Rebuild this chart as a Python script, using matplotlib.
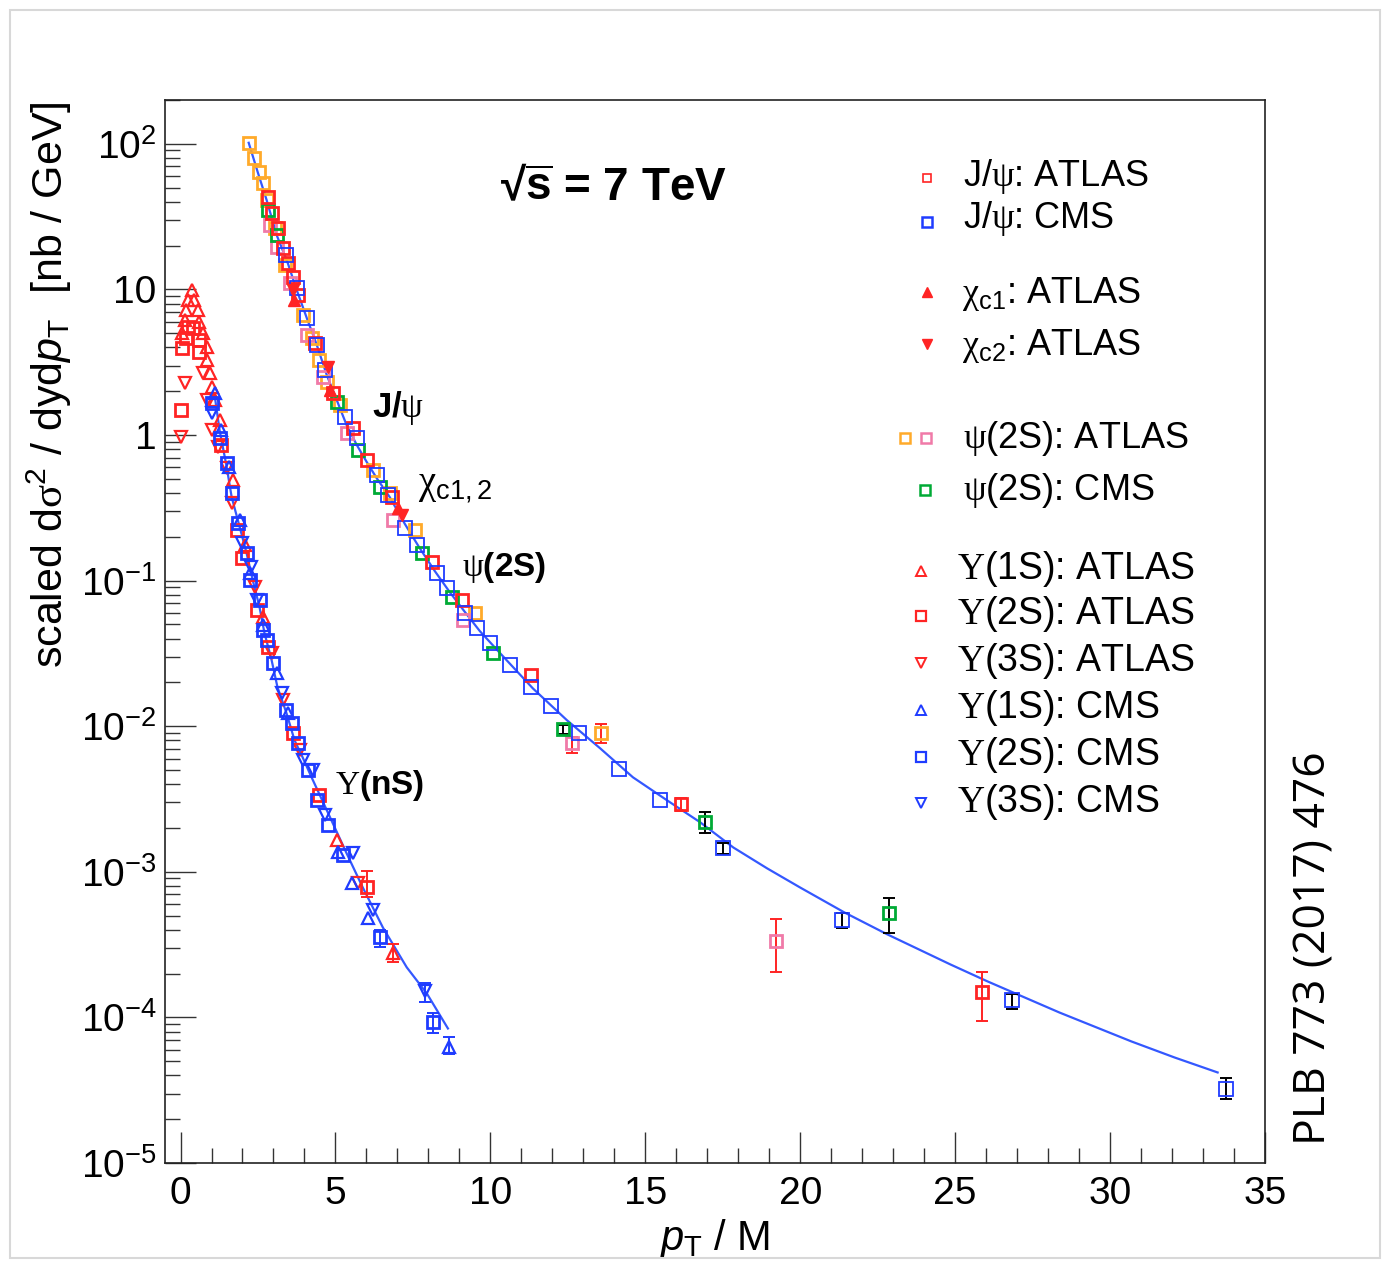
import matplotlib

matplotlib.use("Agg", force=True)
import matplotlib.pyplot as plt
import numpy as np
from matplotlib.patches import Rectangle
from matplotlib.ticker import FixedLocator, LogLocator, MultipleLocator, NullFormatter

plt.rcParams["font.family"] = ["Liberation Sans", "DejaVu Sans"]
plt.rcParams["mathtext.fontset"] = "custom"
plt.rcParams["mathtext.rm"] = "Liberation Serif"
plt.rcParams["mathtext.sf"] = "Liberation Sans"
plt.rcParams["mathtext.it"] = "Liberation Sans:italic"
plt.rcParams["mathtext.bf"] = "Liberation Sans:bold"
plt.rcParams["mathtext.fallback"] = "stix"

RED = "#ff2424"
BLUE = "#1f3cff"
GREEN = "#00aa35"
ORANGE = "#ffaa2a"
PINK = "#f07aa8"
FIT = "#3458ff"
NAN = np.nan

# ---- charmonium family (pT / M, scaled cross section) ----
jpsi_fit_x = [2.20, 2.49, 2.78, 3.10, 3.46, 3.75, 4.07, 4.39, 4.72, 5.04, 5.36, 5.69,
              6.01, 6.33, 6.75, 7.24, 7.72, 8.21, 8.69, 9.18, 9.66, 10.31, 11.37,
              12.47, 13.54, 14.60, 15.70, 16.77, 17.84, 18.93, 19.99, 21.42, 22.81,
              24.85, 26.04, 28.37, 30.69, 32.08, 33.47]
jpsi_fit_y = [101.6, 64, 41, 23.7, 15.2, 9.9, 6.4, 4.2, 2.58, 1.74, 1.17, 0.853,
              0.652, 0.506, 0.375, 0.245, 0.167, 0.116, 0.0833, 0.0608, 0.045, 0.0318,
              0.0182, 0.011, 0.00706, 0.00446, 0.0031, 0.00219, 0.00147, 1.057e-3,
              7.82e-4, 5.27e-4, 3.72e-4, 2.31e-4, 1.77e-4, 1.08e-4, 6.84e-5, 5.31e-5,
              4.19e-5]

jpsi_atlas_x = [2.81, 2.94, 3.13, 3.30, 3.46, 3.62, 3.78, 4.33, 4.91, 5.56, 6.01,
                6.82, 8.11, 9.08, 11.31, 16.16, 25.88]
jpsi_atlas_y = [43.2, 33.6, 26.5, 19.3, 15.2, 12.2, 9.2, 4.29, 1.94, 1.12, 0.673,
                0.375, 0.134, 0.0735, 0.0224, 0.00291, 1.49e-4]
jpsi_atlas_lo = [NAN] * 15 + [0.00262, 9.5e-5]
jpsi_atlas_hi = [NAN] * 15 + [0.00322, 2.04e-4]

jpsi_cms_x = [3.39, 3.75, 4.07, 4.39, 4.65, 5.30, 5.69, 6.33, 6.69, 7.24, 7.63, 8.27,
              8.59, 9.18, 9.56, 9.98, 10.63, 11.31, 11.95, 12.86, 14.15, 15.48, 17.51,
              21.36, 26.85, 33.73]
jpsi_cms_y = [17.3, 10.2, 6.37, 4.15, 2.80, 1.33, 0.954, 0.531, 0.387, 0.230, 0.175,
              0.113, 0.0888, 0.0598, 0.0472, 0.0372, 0.0262, 0.0185, 0.0137, 0.00895,
              0.00506, 0.00310, 0.00145, 4.64e-4, 1.31e-4, 3.25e-5]
jpsi_cms_lo = [NAN] * 22 + [0.00133, 4.09e-4, 1.15e-4, 2.77e-5]
jpsi_cms_hi = [NAN] * 22 + [0.00157, 5.19e-4, 1.46e-4, 3.81e-5]

chic1_x = [3.65, 4.81, 7.01]
chic1_y = [8.47, 2.04, 0.315]
chic2_x = [3.62, 4.75, 7.14]
chic2_y = [9.93, 2.93, 0.282]

psi2s_atlas_orange_x = [2.20, 2.36, 2.52, 2.65, 2.78, 3.04, 3.36, 3.94, 4.23, 4.46,
                        4.72, 5.14, 6.20, 6.75, 7.56, 9.50, 13.57]
psi2s_atlas_orange_y = [101.6, 80.1, 64.2, 53.9, 41.2, 26.5, 14.7, 6.68, 4.64, 3.28,
                        2.31, 1.61, 0.575, 0.399, 0.222, 0.0598, 0.00895]
psi2s_atlas_orange_lo = [NAN] * 16 + [0.00764]
psi2s_atlas_orange_hi = [NAN] * 16 + [0.0103]

psi2s_atlas_pink_x = [2.88, 3.10, 3.52, 4.07, 4.59, 5.36, 6.85, 9.11, 12.63, 19.22]
psi2s_atlas_pink_y = [27.7, 19.6, 11.1, 4.87, 2.50, 1.03, 0.261, 0.0535, 0.00764, 3.33e-4]
psi2s_atlas_pink_lo = [NAN] * 8 + [0.00652, 2.04e-4]
psi2s_atlas_pink_hi = [NAN] * 8 + [0.0084, 4.72e-4]

psi2s_cms_x = [2.81, 3.10, 5.04, 5.72, 6.43, 7.79, 8.76, 10.08, 12.34, 16.93, 22.88]
psi2s_cms_y = [35.2, 23.7, 1.69, 0.789, 0.439, 0.155, 0.0770, 0.0318, 0.00953,
               0.00219, 5.19e-4]
psi2s_cms_lo = [NAN] * 8 + [0.0089, 0.00184, 3.78e-4]
psi2s_cms_hi = [NAN] * 8 + [0.0102, 0.00256, 6.57e-4]

# ---- bottomonium family ----
ups_fit_x = [1.10, 1.26, 1.49, 1.65, 1.91, 2.13, 2.33, 2.55, 2.71, 2.94, 3.13, 3.42,
             3.68, 3.94, 4.20, 4.72, 5.36, 5.88, 6.53, 7.30, 7.95, 8.63]
ups_fit_y = [1.88, 1.08, 0.603, 0.375, 0.233, 0.155, 0.101, 0.0657, 0.0436, 0.0284,
             0.0185, 0.0123, 0.0080, 0.00612, 0.0046, 0.00265, 0.00134, 7.82e-4,
             4.15e-4, 2.21e-4, 1.46e-4, 8.4e-5]

ups1s_atlas_x = [0.36, 0.23, 0.45, 0.19, 0.55, 0.13, 0.61, 0.06, 0.71, 0.84, 0.87,
                 0.94, 1.00, 1.10, 1.26, 1.68, 2.07, 2.65, 5.04, 6.85]
ups1s_atlas_y = [9.93, 8.47, 8.47, 7.23, 7.23, 6.17, 5.98, 5.02, 5.02, 4.03, 3.28,
                 2.67, 2.14, 1.74, 1.27, 0.491, 0.175, 0.0561, 0.00165, 2.75e-4]
ups1s_atlas_lo = [NAN] * 19 + [2.4e-4]
ups1s_atlas_hi = [NAN] * 19 + [3.2e-4]

ups2s_atlas_x = [0.23, 0.39, 0.19, 0.61, 0.06, 0.61, 0.03, 1.32, 1.81, 2.00, 2.46,
                 2.81, 3.62, 4.46, 6.01]
ups2s_atlas_y = [5.52, 5.44, 4.64, 4.50, 3.96, 3.72, 1.49, 0.853, 0.222, 0.143,
                 0.0627, 0.0349, 0.00895, 0.00336, 7.82e-4]
ups2s_atlas_lo = [NAN] * 14 + [6.68e-4]
ups2s_atlas_hi = [NAN] * 14 + [1.02e-3]

ups3s_atlas_x = [0.13, 0.03, 0.71, 0.84, 1.03, 1.20, 1.49, 1.65, 2.39, 2.94, 3.30,
                 3.84, 5.72]
ups3s_atlas_y = [2.28, 0.969, 2.67, 1.74, 1.08, 0.827, 0.593, 0.341, 0.0902, 0.0318,
                 0.0151, 0.00684, 8.34e-4]

ups1s_cms_x = [1.10, 1.32, 1.58, 1.91, 2.23, 2.65, 3.10, 3.46, 5.07, 5.53, 6.04, 8.66]
ups1s_cms_y = [1.94, 1.08, 0.603, 0.261, 0.113, 0.0494, 0.0231, 0.0123, 0.00136,
               8.34e-4, 4.79e-4, 6.22e-5]
ups1s_cms_lo = [NAN] * 11 + [5.6e-5]
ups1s_cms_hi = [NAN] * 11 + [7.3e-5]

ups2s_cms_x = [1.03, 1.26, 1.49, 1.65, 1.84, 2.13, 2.23, 2.55, 2.65, 2.78, 2.97,
               3.42, 3.59, 3.78, 4.10, 4.39, 4.75, 5.23, 6.43, 8.14]
ups2s_cms_y = [1.66, 0.954, 0.642, 0.399, 0.248, 0.155, 0.101, 0.0735, 0.0457,
               0.039, 0.0271, 0.0129, 0.0105, 0.00764, 0.00499, 0.0031, 0.00209,
               0.0013, 3.55e-4, 9.24e-5]
ups2s_cms_lo = [NAN] * 18 + [3.03e-4, 7.76e-5]
ups2s_cms_hi = [NAN] * 18 + [3.96e-4, 1.08e-4]

ups3s_cms_x = [1.03, 2.00, 2.29, 2.46, 3.26, 3.94, 4.26, 4.65, 5.56, 6.20, 7.88]
ups3s_cms_y = [1.42, 0.181, 0.124, 0.0735, 0.0169, 0.00584, 0.00499, 0.00245,
               0.00134, 5.43e-4, 1.53e-4]
ups3s_cms_lo = [NAN] * 10 + [1.28e-4]
ups3s_cms_hi = [NAN] * 10 + [1.73e-4]


def draw(ax, x, y, marker, color, ms=9, mew=2.0, filled=False,
         lo=None, hi=None, ecolor=None):
    x = np.asarray(x, float)
    y = np.asarray(y, float)
    if lo is not None:
        lo = np.asarray(lo, float)
        hi = np.asarray(hi, float)
        m = ~np.isnan(lo)
        ax.errorbar(x[m], y[m], yerr=[y[m] - lo[m], hi[m] - y[m]], fmt="none",
                    ecolor=ecolor or color, elinewidth=1.4, capsize=4.3,
                    capthick=1.4, zorder=3)
    ax.plot(x, y, ls="none", marker=marker, ms=ms, mew=mew, mec=color,
            mfc=color if filled else "none", zorder=4)


fig = plt.figure(figsize=(13.88, 12.75), dpi=100)
ax = fig.add_axes([0.1189, 0.0878, 0.7925, 0.8338])
ax.set_yscale("log")

ax.plot(jpsi_fit_x, jpsi_fit_y, color=FIT, lw=1.6, zorder=2)
ax.plot(ups_fit_x, ups_fit_y, color=FIT, lw=1.6, zorder=2)

draw(ax, psi2s_atlas_orange_x, psi2s_atlas_orange_y, "s", ORANGE,
     lo=psi2s_atlas_orange_lo, hi=psi2s_atlas_orange_hi, ecolor=RED)
draw(ax, psi2s_atlas_pink_x, psi2s_atlas_pink_y, "s", PINK,
     lo=psi2s_atlas_pink_lo, hi=psi2s_atlas_pink_hi, ecolor=RED)
draw(ax, psi2s_cms_x, psi2s_cms_y, "s", GREEN,
     lo=psi2s_cms_lo, hi=psi2s_cms_hi, ecolor="black")
draw(ax, jpsi_atlas_x, jpsi_atlas_y, "s", RED,
     lo=jpsi_atlas_lo, hi=jpsi_atlas_hi)
draw(ax, jpsi_cms_x, jpsi_cms_y, "s", BLUE, ms=9.5, mew=1.3,
     lo=jpsi_cms_lo, hi=jpsi_cms_hi, ecolor="black")
draw(ax, chic1_x, chic1_y, "^", RED, ms=8, mew=1, filled=True)
draw(ax, chic2_x, chic2_y, "v", RED, ms=8, mew=1, filled=True)

draw(ax, ups1s_atlas_x, ups1s_atlas_y, "^", RED, mew=1.6,
     lo=ups1s_atlas_lo, hi=ups1s_atlas_hi)
draw(ax, ups2s_atlas_x, ups2s_atlas_y, "s", RED,
     lo=ups2s_atlas_lo, hi=ups2s_atlas_hi)
draw(ax, ups3s_atlas_x, ups3s_atlas_y, "v", RED, mew=1.6)
draw(ax, ups1s_cms_x, ups1s_cms_y, "^", BLUE, mew=1.6,
     lo=ups1s_cms_lo, hi=ups1s_cms_hi)
draw(ax, ups2s_cms_x, ups2s_cms_y, "s", BLUE,
     lo=ups2s_cms_lo, hi=ups2s_cms_hi)
draw(ax, ups3s_cms_x, ups3s_cms_y, "v", BLUE, mew=1.6,
     lo=ups3s_cms_lo, hi=ups3s_cms_hi)

# axes cosmetics (ROOT-like)
ax.set_xlim(-0.5, 35)
ax.set_ylim(1e-5, 200)
ax.xaxis.set_major_locator(MultipleLocator(5))
ax.xaxis.set_minor_locator(MultipleLocator(1))
yt = [1e-5, 1e-4, 1e-3, 1e-2, 1e-1, 1, 10, 100]
ax.yaxis.set_major_locator(FixedLocator(yt))
ax.set_yticklabels([r"$\mathdefault{10^{-5}}$", r"$\mathdefault{10^{-4}}$",
                    r"$\mathdefault{10^{-3}}$", r"$\mathdefault{10^{-2}}$",
                    r"$\mathdefault{10^{-1}}$", "1", "10", r"$\mathdefault{10^{2}}$"])
ax.yaxis.set_minor_locator(LogLocator(base=10, subs=range(2, 10), numticks=20))
ax.yaxis.set_minor_formatter(NullFormatter())
ax.tick_params(which="both", direction="in", top=False, right=False,
               color="#333333", width=1.0, labelsize=28)
ax.tick_params(which="major", length=22)
ax.tick_params(which="minor", length=11)
ax.tick_params(axis="x", pad=9)
ax.tick_params(axis="y", pad=6)
for s in ax.spines.values():
    s.set_linewidth(1.2)
    s.set_color("#222222")

ax.set_xlabel(r"$p_{\mathsf{T}}$ / M", fontsize=30, labelpad=4)
ax.set_ylabel(r"scaled d$\mathrm{\sigma}^{\mathsf{2}}$ / dyd$p_{\mathsf{T}}$  [nb / GeV]",
              fontsize=31)
ax.yaxis.set_label_coords(-0.083, 0.732)

# curve annotations
ax.text(0.408, 0.917, r"√$\overline{\mathbf{s}}$ = 7 TeV", transform=ax.transAxes,
        fontsize=33, fontweight="bold", ha="center", va="center")
ax.text(6.17, 1.53, r"J/$\mathrm{\psi}$", fontsize=25, fontweight="bold",
        ha="left", va="center")
ax.text(7.66, 0.44, r"$\mathrm{\chi}_{\mathsf{c1,2}}$", fontsize=28,
        ha="left", va="center")
ax.text(9.08, 0.124, r"$\mathrm{\psi}$(2S)", fontsize=24, fontweight="bold",
        ha="left", va="center")
ax.text(4.98, 0.00393, r"$\Upsilon$(nS)", fontsize=24, fontweight="bold",
        ha="left", va="center")

# legend drawn by hand to keep the ROOT grouping
legend_rows = [
    (r"J/$\mathrm{\psi}$: ATLAS", 0.7255, 0.9191, 26, [("s", RED, 0.6927, 0.9266, 5.5, 1.2, False)]),
    (r"J/$\mathrm{\psi}$: CMS", 0.7255, 0.8796, 26, [("s", BLUE, 0.6927, 0.8852, 7, 1.8, False)]),
    (r"$\mathrm{\chi}_{\mathsf{c1}}$: ATLAS", 0.7245, 0.8090, 26, [("^", RED, 0.6927, 0.8194, 7, 1, True)]),
    (r"$\mathrm{\chi}_{\mathsf{c2}}$: ATLAS", 0.7245, 0.7600, 26, [("v", RED, 0.6927, 0.7704, 7, 1, True)]),
    (r"$\mathrm{\psi}$(2S): ATLAS", 0.7255, 0.6726, 26, [("s", ORANGE, 0.6727, 0.6820, 7.5, 1.8, False),
                                                         ("s", PINK, 0.6918, 0.6820, 7.5, 1.8, False)]),
    (r"$\mathrm{\psi}$(2S): CMS", 0.7255, 0.6237, 26, [("s", GREEN, 0.6910, 0.6331, 7.5, 1.8, False)]),
    (r"$\Upsilon$(1S): ATLAS", 0.7200, 0.5494, 27, [("^", RED, 0.6873, 0.5569, 6.5, 1.4, False)]),
    (r"$\Upsilon$(2S): ATLAS", 0.7200, 0.5071, 27, [("s", RED, 0.6873, 0.5146, 6.5, 1.6, False)]),
    (r"$\Upsilon$(3S): ATLAS", 0.7200, 0.4629, 27, [("v", RED, 0.6873, 0.4704, 6.5, 1.4, False)]),
    (r"$\Upsilon$(1S): CMS", 0.7200, 0.4186, 27, [("^", BLUE, 0.6873, 0.4262, 6.5, 1.4, False)]),
    (r"$\Upsilon$(2S): CMS", 0.7200, 0.3744, 27, [("s", BLUE, 0.6873, 0.3819, 6.5, 1.6, False)]),
    (r"$\Upsilon$(3S): CMS", 0.7200, 0.3302, 27, [("v", BLUE, 0.6873, 0.3387, 6.5, 1.4, False)]),
]
for label, tx, ty, fs, marks in legend_rows:
    ax.text(tx, ty, label, transform=ax.transAxes, fontsize=fs,
            ha="left", va="baseline")
    for mk, col, mx, my, ms, mew, filled in marks:
        ax.plot([mx], [my], transform=ax.transAxes, ls="none", marker=mk,
                ms=ms, mew=mew, mec=col, mfc=col if filled else "none",
                clip_on=False)

fig.text(0.947, 0.102, "PLB 773 (2017) 476", rotation=90, fontsize=32,
         family=["Open Sans", "DejaVu Sans"], ha="center", va="bottom")

fig.patches.append(Rectangle((0.0072, 0.0133), 0.987, 0.979,
                             transform=fig.transFigure, fill=False,
                             ec="#d8d8d8", lw=1.5))

fig.savefig("out.png", dpi=100)
plt.close(fig)
